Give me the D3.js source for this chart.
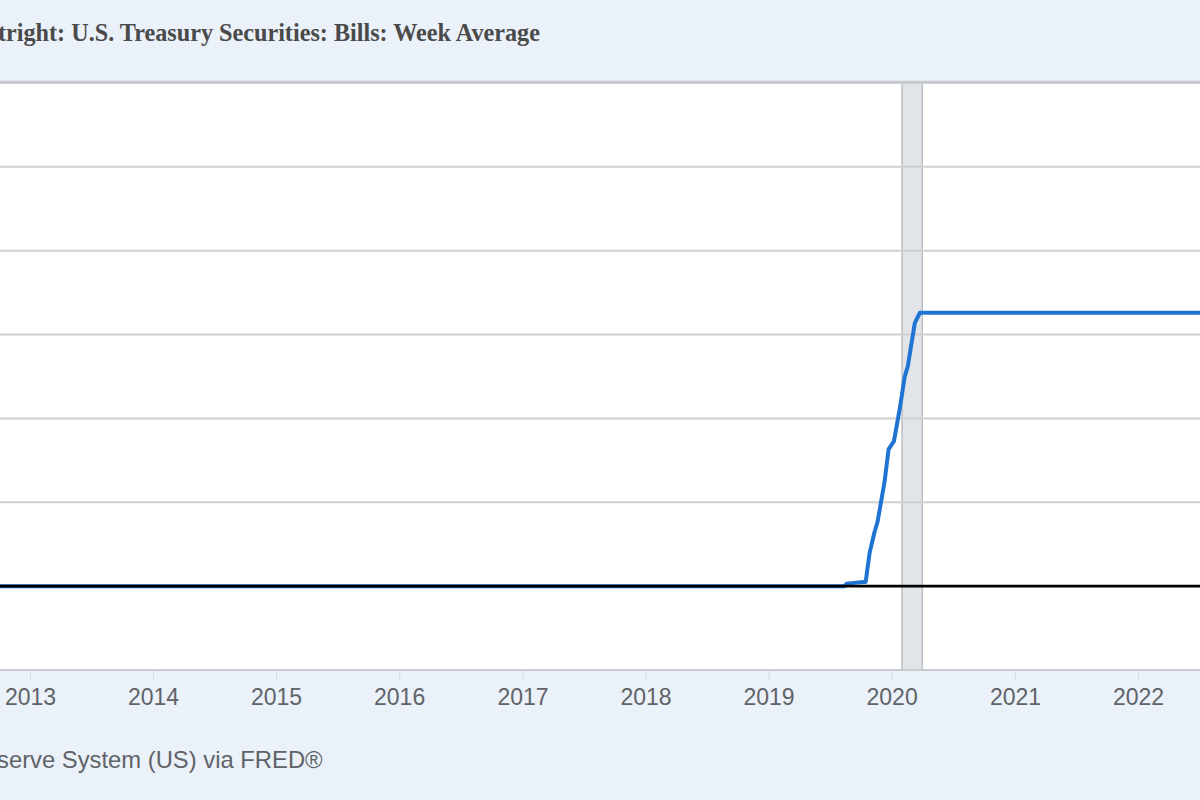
<!DOCTYPE html>
<html>
<head>
<meta charset="utf-8">
<script src="https://cdn.jsdelivr.net/npm/d3@7"></script>
<style>
  html, body { margin: 0; padding: 0; background: #eaf1f9; overflow: hidden; }
  svg { display: block; }
</style>
</head>
<body>
<svg id="chart" width="1200" height="800"></svg>
<script>
// ---- data (billions of U.S. dollars, Wednesday level, week average) ----
const dates = [
  "2012-09-01", "2019-08-14", "2019-08-21", "2019-10-09", "2019-10-16",
  "2019-10-28", "2019-11-11", "2019-11-20", "2019-12-11", "2019-12-23",
  "2020-01-08", "2020-01-25", "2020-02-09", "2020-02-18", "2020-03-10",
  "2020-03-25", "2022-09-01"
];
const values = [
  0, 0, 3, 5, 5,
  40, 64, 76, 124, 163,
  173, 211, 250, 262, 314,
  326, 326
];
const yTicks = [0, 100, 200, 300, 400, 500, 600];
const xTickYears = [2013, 2014, 2015, 2016, 2017, 2018, 2019, 2020, 2021, 2022];
const recessionStart = "2020-02-01";
const recessionEnd = "2020-04-01";
const titleText = "tright: U.S. Treasury Securities: Bills: Week Average";
const sourceText = "serve System (US) via FRED®";

// ---- layout ----
const svg = d3.select("#chart");
const W = 1200, H = 800;
const plotTop = 83, plotBottom = 670;
const parse = d3.utcParse("%Y-%m-%d");

const x = d3.scaleUtc()
  .domain([new Date(Date.UTC(2013, 0, 1)), new Date(Date.UTC(2022, 0, 1))])
  .range([30, 1138]);
const y = d3.scaleLinear()
  .domain([-100, 600])
  .range([plotBottom, plotTop]);

// background
svg.append("rect").attr("x", 0).attr("y", 0).attr("width", W).attr("height", H).attr("fill", "#eaf1f9");
svg.append("rect").attr("x", 0).attr("y", plotTop).attr("width", W).attr("height", plotBottom - plotTop).attr("fill", "#ffffff");

svg.append("defs").append("clipPath").attr("id", "plotclip")
  .append("rect").attr("x", 0).attr("y", plotTop - 2).attr("width", W).attr("height", plotBottom - plotTop + 4);

// recession band
svg.append("rect")
  .attr("x", x(parse(recessionStart)))
  .attr("y", plotTop)
  .attr("width", x(parse(recessionEnd)) - x(parse(recessionStart)))
  .attr("height", plotBottom - plotTop)
  .attr("fill", "#e1e5ea")
  .attr("stroke", "#bcc0c4")
  .attr("stroke-width", 1.5);

// gridlines
svg.append("g").selectAll("line")
  .data(yTicks.filter(d => d !== 0))
  .join("line")
  .attr("x1", 0).attr("x2", W)
  .attr("y1", d => y(d)).attr("y2", d => y(d))
  .attr("stroke", "#cfcfcf")
  .attr("stroke-width", 2);

// x axis
const xAxis = d3.axisBottom(x)
  .tickValues(xTickYears.map(yr => new Date(Date.UTC(yr, 0, 1))))
  .tickFormat(d3.utcFormat("%Y"))
  .tickSize(9)
  .tickPadding(12);
const gx = svg.append("g").attr("transform", `translate(0,${plotBottom})`).call(xAxis);
gx.select(".domain").remove();
gx.selectAll(".tick line").attr("stroke", "#d4dbe3").attr("stroke-width", 1.2);
gx.selectAll(".tick text")
  .attr("fill", "#5f6368")
  .attr("font-family", "'Liberation Sans', Arial, sans-serif")
  .attr("font-size", 23)
  .attr("dy", "0.62em");
svg.append("line").attr("x1", 0).attr("x2", W).attr("y1", plotBottom).attr("y2", plotBottom)
  .attr("stroke", "#c8ccd0").attr("stroke-width", 2);

// data line
const line = d3.line()
  .x((d, i) => x(parse(dates[i])))
  .y(d => y(d));
svg.append("path")
  .datum(values)
  .attr("clip-path", "url(#plotclip)")
  .attr("fill", "none")
  .attr("stroke", "#1f74d3")
  .attr("stroke-width", 4)
  .attr("stroke-linejoin", "round")
  .attr("d", line);

// zero line
svg.append("line").attr("x1", 0).attr("x2", W).attr("y1", y(0)).attr("y2", y(0))
  .attr("stroke", "#000").attr("stroke-width", 2.6);

// top border
svg.append("line").attr("x1", 0).attr("x2", W).attr("y1", plotTop - 1).attr("y2", plotTop - 1)
  .attr("stroke", "#c5c9cd").attr("stroke-width", 2.5);

// title
svg.append("text")
  .attr("x", -2).attr("y", 41)
  .attr("font-family", "'Liberation Serif', 'Times New Roman', serif")
  .attr("font-weight", "bold")
  .attr("font-size", 24.2)
  .attr("fill", "#4a4a4a")
  .text(titleText);

// source
svg.append("text")
  .attr("x", -3).attr("y", 768)
  .attr("font-family", "'Liberation Sans', Arial, sans-serif")
  .attr("font-size", 23.8)
  .attr("fill", "#5f6368")
  .text(sourceText);
</script>
</body>
</html>
